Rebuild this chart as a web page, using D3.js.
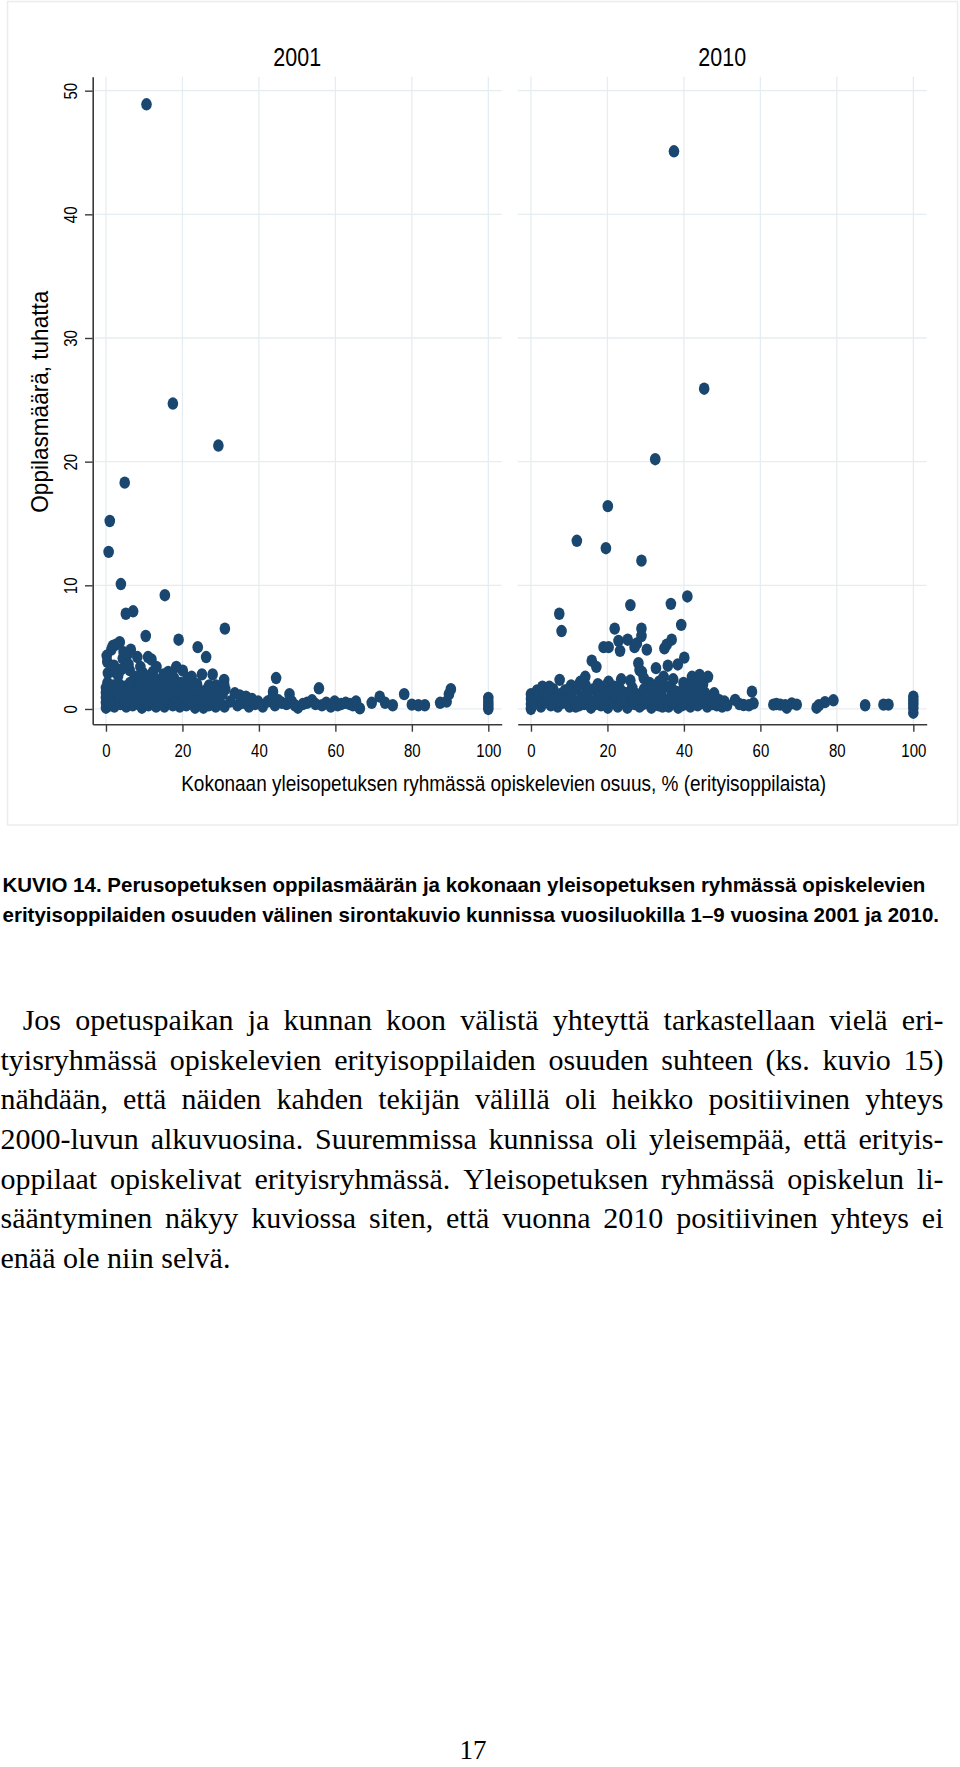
<!DOCTYPE html>
<html>
<head>
<meta charset="utf-8">
<script src="https://cdn.jsdelivr.net/npm/d3@7"></script>
<style>
  body { margin: 0; background: #fff; }
  svg { display: block; }
</style>
</head>
<body>
<div id="page"></div>
<script>
var years = ['2001', '2010'];
var xTicks = [0, 20, 40, 60, 80, 100];
var yTicks = [0, 10, 20, 30, 40, 50];

// [osuus %, oppilaita tuhatta]
var data2001 = [
  [10.6,48.9],[17.5,24.7],[29.4,21.3],[4.9,18.3],[1.0,15.2],[0.7,12.7],[3.9,10.1],[15.4,9.2],
  [5.2,7.7],[7.1,7.9],[31.1,6.5],[10.4,5.9],[19.0,5.6],[24.0,5.0],[26.2,4.2],
  [1.8,5.1],[3.6,5.4],[1.4,4.8],[2.6,5.2],[4.4,4.1],[4.6,4.6],[6.5,4.8],[5.6,4.4],[8.2,4.2],
  [11.0,4.2],[11.9,4.0],[13.2,3.4],[18.4,3.4],[0.35,3.8],[0.5,2.9],[2.3,3.0],[6.2,3.15],
  [9.7,2.9],[14.0,2.35],[17.1,2.9],[17.8,2.5],[21.4,2.5],[22.4,2.6],[25.1,2.8],[27.9,2.8],
  [30.9,2.35],[30.9,2.0],[26.7,1.7],[44.5,2.5],[43.7,1.4],[12.3,3.0],[9.0,3.4],[3.2,2.7],
  [7.5,2.6],[15.6,2.2],[19.5,2.1],[23.8,2.0],[28.8,1.9],[20.1,3.1],
  [0,0.1],[0,0.5],[0,0.9],[0,1.3],[0,1.7],[0.4,2.1],[1.1,0.3],[1.5,0.8],[1.2,1.4],[1.9,1.9],
  [2.2,0.2],[2.5,1.1],[2.9,0.6],[3.1,1.6],[3.4,2.0],[3.8,0.4],[4.1,1.2],[4.5,0.8],[4.8,1.8],
  [5.3,0.2],[5.5,1.4],[6.0,0.7],[6.3,2.1],[6.7,1.1],[7.0,0.3],[7.4,1.6],[7.9,0.9],[8.3,2.0],
  [8.6,0.4],[9.0,1.3],[9.4,0.1],[9.8,1.8],[10.2,0.7],[10.6,1.5],[11.1,0.3],[11.4,2.2],[11.8,1.0],
  [12.3,0.5],[12.7,1.7],[13.1,0.2],[13.6,1.2],[14.0,0.6],[14.5,1.9],[14.9,0.9],[15.3,0.2],
  [15.8,1.5],[16.2,0.6],[16.6,2.0],[17.1,1.1],[17.5,0.3],[17.9,1.7],[18.4,0.8],[18.8,1.3],
  [19.3,0.2],[19.7,1.9],[20.1,0.7],[20.6,1.4],[21.0,0.3],[21.5,1.0],[21.9,1.8],[22.4,0.5],
  [22.8,1.3],[23.3,0.1],[23.7,0.9],[24.2,1.6],[24.6,0.4],[25.1,1.2],[25.5,0.1],[26.0,0.8],
  [26.4,1.5],[26.9,0.3],[27.3,1.1],[27.8,0.6],[28.2,1.4],[28.7,0.2],[29.1,0.9],[29.6,1.7],
  [30.0,0.4],[30.5,1.2],[31.0,0.2],[31.2,1.6],
  [0.8,0.6],[2.0,1.5],[3.6,0.9],[5.0,0.5],[6.5,1.7],[8.0,1.3],[9.6,0.8],[11.3,1.4],[13.0,0.9],
  [14.7,1.4],[16.4,1.3],[18.0,0.5],[19.9,1.1],[21.7,0.6],[23.5,1.7],[25.3,0.7],[27.0,1.9],[28.9,1.2],
  [2.1,3.5],[4.0,3.2],[5.9,3.6],[8.7,2.5],[10.8,2.6],[12.6,2.4],[15.1,2.8],[16.3,3.0],[0.2,4.3],
  [32.5,0.6],[33.7,1.27],[34.4,0.3],[35.0,1.1],[35.8,0.5],[36.6,1.0],[37.4,0.2],[38.2,0.8],
  [39.0,0.4],[39.8,0.6],[41.0,0.2],[42.3,0.6],[43.5,0.9],[44.2,0.3],[45.1,0.7],[46.0,0.5],
  [47.2,0.4],[48.0,1.2],[48.6,0.6],[49.4,0.3],[50.2,0.1],[51.5,0.4],[52.6,0.5],[53.9,0.7],
  [54.8,0.4],[55.7,1.67],[56.5,0.3],[57.6,0.5],[58.8,0.2],[59.8,0.6],[60.6,0.3],[61.5,0.4],
  [62.7,0.5],[63.8,0.4],[64.6,0.3],[65.4,0.6],[66.4,0.05],
  [69.5,0.5],[71.6,1.0],[73.0,0.5],[75.0,0.3],[78.0,1.2],[80.0,0.35],[81.7,0.3],[83.4,0.3],
  [87.4,0.5],[89.1,0.6],[89.7,1.2],[90.2,1.6],
  [100,0.0],[100,0.3],[100,0.6],[100,0.9]
];

var data2010 = [
  [37.4,45.1],[45.3,25.9],[32.5,20.2],[20.1,16.4],[12.0,13.6],[19.6,13.0],[28.9,12.0],[40.9,9.1],
  [26.0,8.4],[36.6,8.5],[7.4,7.7],[8.0,6.3],[39.3,6.8],[21.9,6.5],[28.9,6.5],[28.9,5.9],
  [19.0,5.0],[20.3,5.0],[22.9,5.5],[23.3,4.7],[25.3,5.6],[27.1,5.0],[27.7,5.3],[30.3,4.8],
  [34.9,4.9],[35.5,5.2],[36.8,5.6],[15.9,3.9],[17.1,3.4],[32.7,3.3],[28.1,3.7],[28.4,3.15],
  [35.8,3.5],[38.4,3.6],[40.1,4.15],[7.5,2.35],[12.9,2.2],[14.2,2.6],[20.3,2.2],[23.6,2.4],
  [34.7,2.6],[39.9,2.1],[42.1,2.6],[44.1,2.75],[46.3,2.6],[47.9,1.27],[29.0,3.0],[29.5,2.5],
  [41.6,2.0],[42.9,2.1],[33.5,2.2],[26.0,2.3],[37.2,2.4],[17.5,2.0],[10.5,1.9],[3.0,1.8],
  [45.0,2.0],[31.0,2.1],
  [0,0.0],[0,0.4],[0,0.8],[0,1.2],[1.2,0.5],[2.0,1.0],[2.6,0.2],[3.3,1.4],[3.9,0.6],[4.5,1.1],
  [5.2,0.3],[5.8,1.6],[6.4,0.8],[7.0,0.2],[7.6,1.2],[8.3,0.5],[8.9,1.5],[9.5,0.9],[10.1,0.2],
  [10.7,1.3],[11.4,0.6],[12.0,1.7],[12.6,0.3],[13.2,1.0],[13.9,0.4],[14.5,1.4],[15.1,0.8],
  [15.7,0.1],[16.4,1.6],[17.0,0.7],[17.6,1.2],[18.3,0.3],[18.9,1.8],[19.5,0.8],[20.1,0.1],
  [20.8,1.4],[21.4,0.5],[22.0,1.0],[22.7,0.2],[23.3,1.6],[23.9,0.7],[24.6,1.3],[25.2,0.1],
  [25.8,0.9],[26.5,1.7],[27.1,0.4],[27.7,1.2],[28.4,0.2],[29.0,0.9],[29.6,1.6],[30.3,0.5],
  [30.9,1.2],[31.5,0.1],[32.2,0.8],[32.8,1.5],[33.4,0.3],[34.1,1.1],[34.7,0.6],[35.3,1.8],
  [36.0,0.2],[36.6,1.0],[37.2,0.5],[37.9,1.4],[38.5,0.1],[39.1,0.8],[39.8,1.6],[40.4,0.4],
  [41.0,1.1],[41.7,0.2],[42.3,0.7],[42.9,1.5],[43.6,0.3],[44.2,1.0],[44.8,0.5],[45.5,1.3],
  [46.1,0.2],[46.7,0.8],[47.4,0.4],[48.0,1.0],[48.6,0.3],[49.3,0.7],[50.0,0.2],[50.6,0.6],[51.3,0.3],
  [1.6,1.5],[4.8,1.8],[7.3,0.7],[9.9,1.6],[11.7,0.2],[14.3,1.9],[16.8,0.4],[19.2,1.3],[21.8,1.8],
  [24.2,0.6],[26.8,1.0],[29.3,0.4],[31.8,1.8],[34.4,0.2],[36.9,1.6],[39.5,0.3],[41.9,1.8],[44.5,1.7],
  [53.4,0.73],[54.5,0.4],[55.6,0.32],[57.0,0.3],[57.8,1.4],[58.2,0.46],
  [63.4,0.35],[64.2,0.4],[65.2,0.35],[66.5,0.3],[66.9,0.1],[68.2,0.45],[69.5,0.35],
  [74.7,0.1],[75.3,0.3],[76.9,0.55],[79.1,0.7],[87.4,0.3],[92.2,0.35],[93.5,0.35],
  [100,-0.3],[100,0.1],[100,0.4],[100,0.7],[100,1.0]
];

var xTitle = 'Kokonaan yleisopetuksen ryhmässä opiskelevien osuus, % (erityisoppilaista)';
var yTitle = 'Oppilasmäärä, tuhatta';
var captionLines = [
  'KUVIO 14. Perusopetuksen oppilasmäärän ja kokonaan yleisopetuksen ryhmässä opiskelevien',
  'erityisoppilaiden osuuden välinen sirontakuvio kunnissa vuosiluokilla 1–9 vuosina 2001 ja 2010.'
];
var bodyLines = [
  'Jos opetuspaikan ja kunnan koon välistä yhteyttä tarkastellaan vielä eri-',
  'tyisryhmässä opiskelevien erityisoppilaiden osuuden suhteen (ks. kuvio 15)',
  'nähdään, että näiden kahden tekijän välillä oli heikko positiivinen yhteys',
  '2000-luvun alkuvuosina. Suuremmissa kunnissa oli yleisempää, että erityis-',
  'oppilaat opiskelivat erityisryhmässä. Yleisopetuksen ryhmässä opiskelun li-',
  'sääntyminen näkyy kuviossa siten, että vuonna 2010 positiivinen yhteys ei',
  'enää ole niin selvä.'
];

var W = 960, H = 1767;
var sans = '"Liberation Sans", Arial, sans-serif';
var serif = '"Liberation Serif", "Times New Roman", serif';
var navy = '#1a476f';
var gridColor = '#e6edf0';
var axisColor = '#3a3a3a';
var narrow = 0.81;

var svg = d3.select('#page').append('svg')
    .attr('width', W)
    .attr('height', H);

// light frame around the graph area
svg.append('rect')
    .attr('x', 7.5).attr('y', 1.5)
    .attr('width', 950).attr('height', 823.5)
    .attr('fill', 'none')
    .attr('stroke', '#ececec')
    .attr('stroke-width', 1.5);

var plotTop = 76.7, plotBottom = 724.3;
var yScale = d3.scaleLinear().domain([-1.24, 51.13]).range([plotBottom, plotTop]);

var panels = [
  { title: years[0], data: data2001, x0: 92.7, x1: 501.7 },
  { title: years[1], data: data2010, x0: 517.7, x1: 926.7 }
];

panels.forEach(function(p, i) {
    var xScale = d3.scaleLinear().domain([-3.47, 103.5]).range([p.x0, p.x1]);
    var g = svg.append('g');

    // grid
    g.selectAll('.hgrid').data(yTicks).enter().append('line')
        .attr('x1', i === 0 ? p.x0 + 2 : p.x0).attr('x2', p.x1)
        .attr('y1', d => yScale(d)).attr('y2', d => yScale(d))
        .attr('stroke', gridColor).attr('stroke-width', 1.3);
    g.selectAll('.vgrid').data(xTicks).enter().append('line')
        .attr('x1', d => xScale(d)).attr('x2', d => xScale(d))
        .attr('y1', plotTop).attr('y2', plotBottom)
        .attr('stroke', gridColor).attr('stroke-width', 1.3);

    // points
    g.selectAll('ellipse').data(p.data).enter().append('ellipse')
        .attr('cx', d => xScale(d[0]))
        .attr('cy', d => yScale(d[1]))
        .attr('rx', 5.3).attr('ry', 6.2)
        .attr('fill', navy);

    // x axis
    var xAxis = g.append('g')
        .attr('transform', `translate(0, ${plotBottom})`)
        .call(d3.axisBottom(xScale).tickValues(xTicks).tickSize(7.4).tickSizeOuter(0));
    xAxis.select('.domain').attr('stroke', axisColor).attr('stroke-width', 1.6);
    xAxis.selectAll('.tick line').attr('stroke', axisColor).attr('stroke-width', 1.4);
    xAxis.selectAll('.tick text')
        .attr('y', 32.4).attr('dy', null)
        .attr('transform', `scale(${narrow},1)`)
        .attr('fill', '#000')
        .style('font-family', sans).style('font-size', '18.5px');

    // panel title
    svg.append('text')
        .attr('transform', `translate(${(p.x0 + p.x1) / 2}, 65.7) scale(${narrow},1)`)
        .attr('text-anchor', 'middle')
        .style('font-family', sans).style('font-size', '26.5px')
        .text(p.title);

    // y axis on the first panel only
    if (i === 0) {
        var yAxis = g.append('g')
            .attr('transform', `translate(${p.x0}, 0)`)
            .call(d3.axisLeft(yScale).tickValues(yTicks).tickSize(7.7).tickSizeOuter(0));
        yAxis.select('.domain').attr('stroke', axisColor).attr('stroke-width', 1.6);
        yAxis.selectAll('.tick line').attr('stroke', axisColor).attr('stroke-width', 1.4);
        yAxis.selectAll('.tick text')
            .attr('x', null).attr('dy', null)
            .attr('text-anchor', 'middle')
            .attr('transform', `translate(-15.7,0) rotate(-90) scale(${narrow},1)`)
            .attr('fill', '#000')
            .style('font-family', sans).style('font-size', '18.5px');
    }
});

// axis titles
svg.append('text')
    .attr('x', 503.7).attr('y', 790.7)
    .attr('text-anchor', 'middle')
    .attr('textLength', 645).attr('lengthAdjust', 'spacingAndGlyphs')
    .style('font-family', sans).style('font-size', '22px')
    .text(xTitle);

svg.append('text')
    .attr('transform', 'translate(48, 401.7) rotate(-90)')
    .attr('text-anchor', 'middle')
    .attr('textLength', 222).attr('lengthAdjust', 'spacingAndGlyphs')
    .style('font-family', sans).style('font-size', '24px')
    .text(yTitle);

// caption
svg.selectAll('.caption').data(captionLines).enter().append('text')
    .attr('x', 2.5)
    .attr('y', (d, i) => 891.7 + i * 30)
    .style('font-family', sans).style('font-size', '20.5px').style('font-weight', 'bold')
    .text(d => d);

// justified body text
var bodyG = svg.append('g')
    .style('font-family', serif).style('font-size', '30px');
var bodySize = 30;
bodyLines.forEach(function(line, i) {
    var words = line.split(' ');
    var y = 1030 + i * 39.65;
    var x0 = i === 0 ? 22.7 : 0.5;
    var x1 = 943.5;
    var nodes = words.map(w => bodyG.append('text').attr('y', y).text(w));
    var widths = nodes.map(n => n.node().getComputedTextLength());
    var last = i === bodyLines.length - 1;
    var gap = last ? bodySize * 0.25 : (x1 - x0 - d3.sum(widths)) / (words.length - 1);
    var x = x0;
    nodes.forEach(function(n, k) {
        n.attr('x', x);
        x += widths[k] + gap;
    });
});

// page number
svg.append('text')
    .attr('x', 473).attr('y', 1759)
    .attr('text-anchor', 'middle')
    .style('font-family', serif).style('font-size', '27px')
    .text('17');
</script>
</body>
</html>
